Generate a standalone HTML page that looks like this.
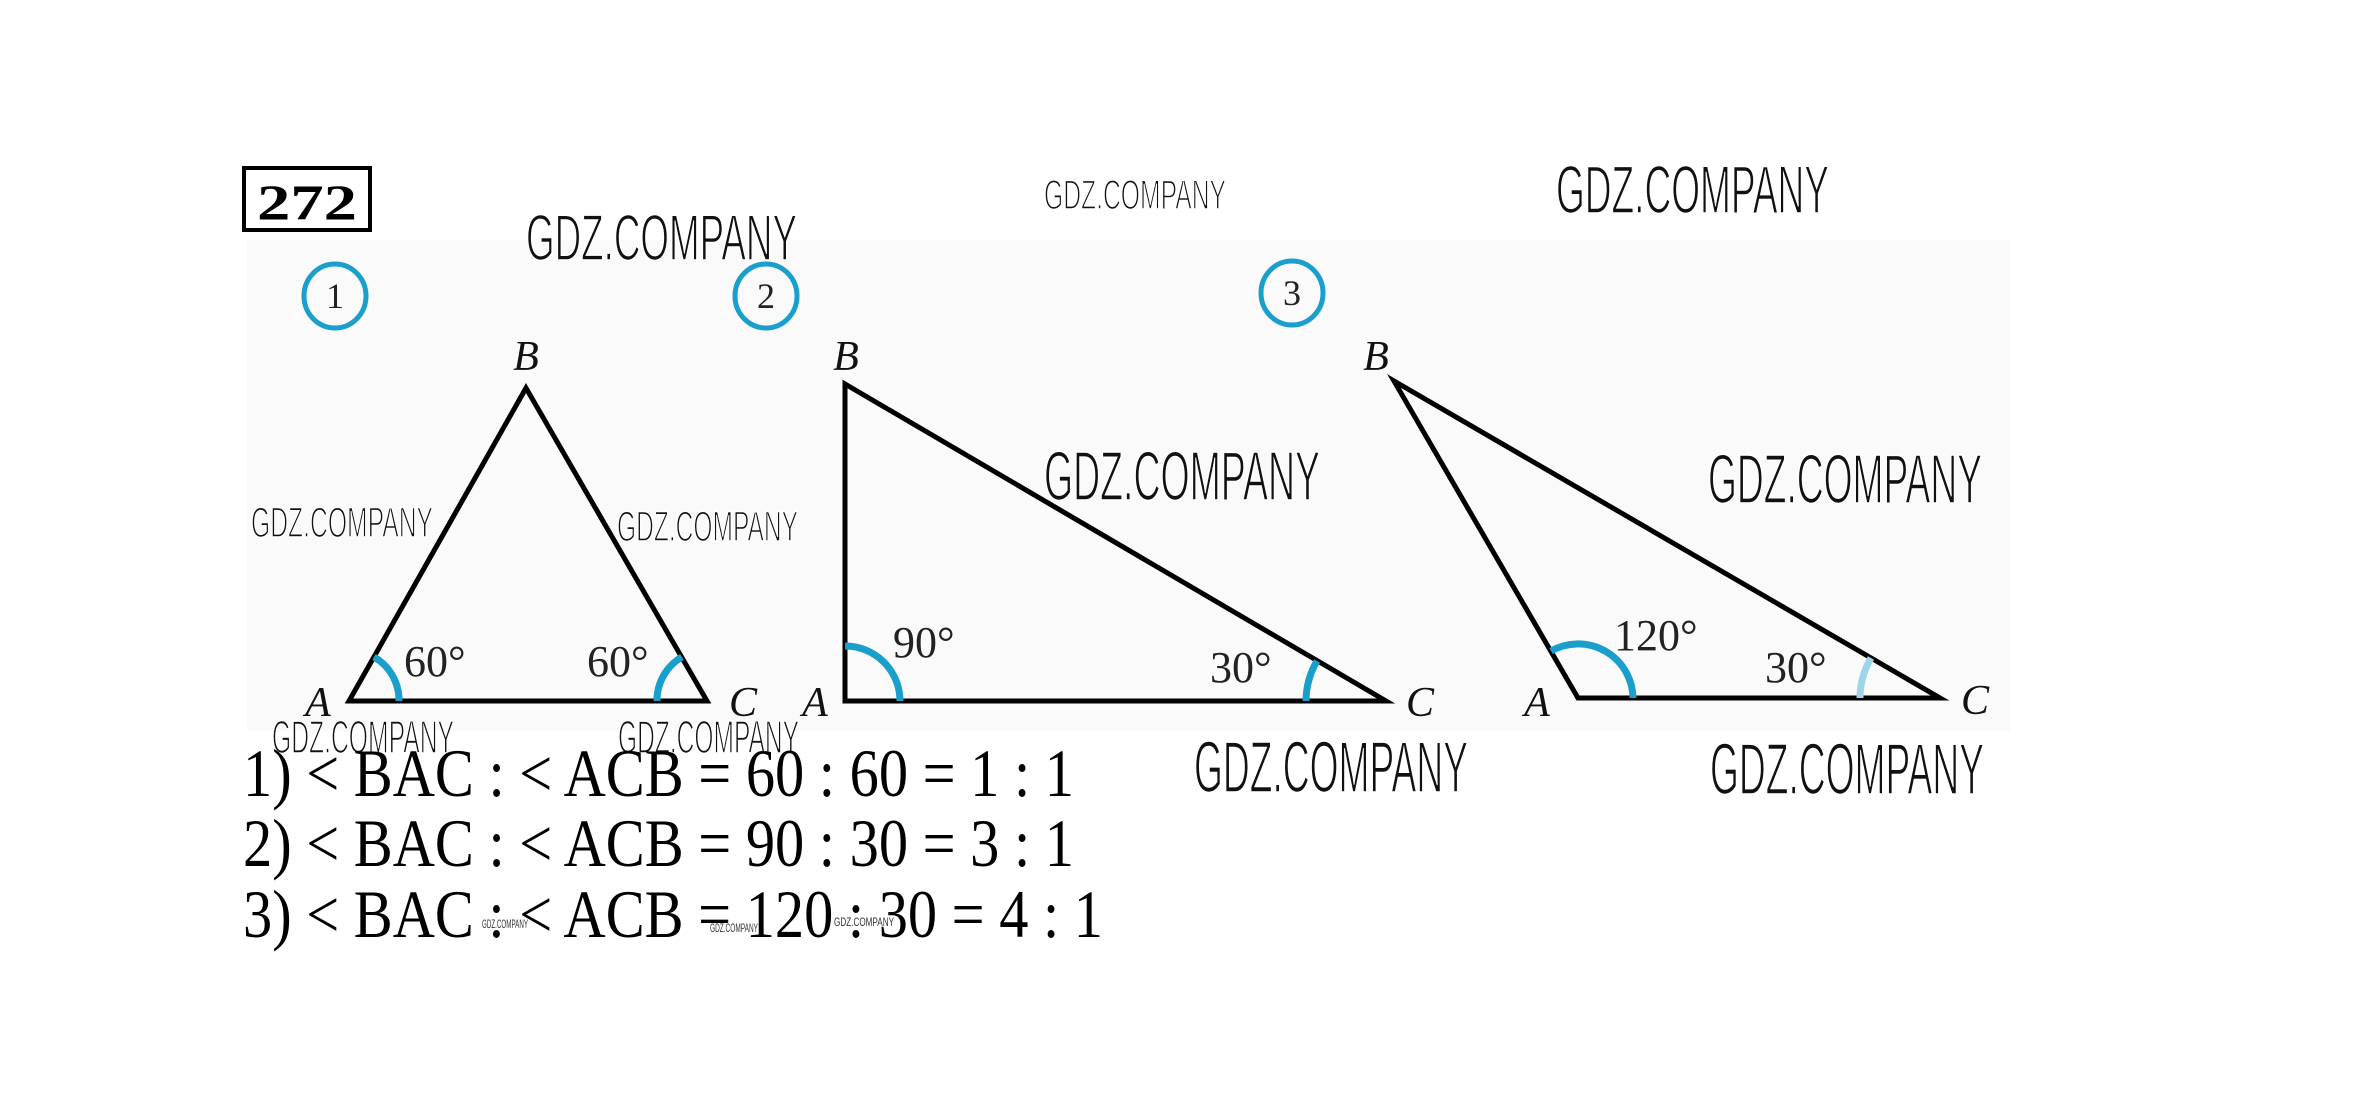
<!DOCTYPE html>
<html><head><meta charset="utf-8"><style>
html,body{margin:0;padding:0;background:#fff;}
svg{display:block;}
.w{font-family:"Liberation Sans",sans-serif;fill:#111;stroke:#fff;stroke-width:1.6px;paint-order:normal;}
.l{font-family:"Liberation Serif",serif;font-style:italic;fill:#111;}
.n{font-family:"Liberation Serif",serif;fill:#222;}
.t{font-family:"Liberation Serif",serif;fill:#000;}
</style></head><body>
<svg width="2367" height="1113" viewBox="0 0 2367 1113" xmlns="http://www.w3.org/2000/svg">
<rect width="2367" height="1113" fill="#fff"/>
<rect x="247" y="240" width="1763" height="491" fill="#fafafa"/>
<!-- 272 box -->
<rect x="244" y="168" width="126" height="62" fill="#fff" stroke="#000" stroke-width="4"/>
<text x="307" y="219" text-anchor="middle" class="t" font-size="50" font-weight="bold" textLength="100" lengthAdjust="spacingAndGlyphs">272</text>
<!-- circles -->
<g fill="none" stroke="#1a9fcc" stroke-width="5">
<ellipse cx="335" cy="296" rx="31" ry="32"/>
<ellipse cx="766" cy="296" rx="31" ry="32"/>
<ellipse cx="1292" cy="293" rx="31" ry="32"/>
</g>
<text x="335" y="308" text-anchor="middle" class="n" font-size="36">1</text>
<text x="766" y="308" text-anchor="middle" class="n" font-size="36">2</text>
<text x="1292" y="305" text-anchor="middle" class="n" font-size="36">3</text>
<!-- triangles -->
<g fill="none" stroke="#000" stroke-width="5" stroke-linejoin="miter">
<polygon points="526,388 349,701 707,701"/>
<polygon points="845,384 845,701 1386,701"/>
<polygon points="1394,381 1578,698 1940,698"/>
</g>
<!-- arcs -->
<g fill="none" stroke="#1a9fcc" stroke-width="7">
<path d="M 399 701 A 50 50 0 0 0 374 657"/>
<path d="M 657 701 A 50 50 0 0 1 682 657"/>
<path d="M 900 701 A 55 55 0 0 0 845 646"/>
<path d="M 1306 701 A 80 80 0 0 1 1317 661"/>
<path d="M 1633 698 A 55 55 0 0 0 1551 651"/>
<path d="M 1860 698 A 80 80 0 0 1 1871 658" stroke="#9fd5ea"/>
</g>
<!-- vertex labels -->
<g class="l" font-size="42" text-anchor="middle">
<text x="526" y="370">B</text><text x="318" y="716">A</text><text x="743" y="716">C</text>
<text x="846" y="370">B</text><text x="815" y="716">A</text><text x="1420" y="716">C</text>
<text x="1376" y="370">B</text><text x="1537" y="716">A</text><text x="1975" y="714">C</text>
</g>
<!-- angle labels -->
<g class="n" font-size="44">
<text x="404" y="676">60°</text>
<text x="587" y="676">60°</text>
<text x="893" y="657">90°</text>
<text x="1210" y="682">30°</text>
<text x="1614" y="650">120°</text>
<text x="1765" y="682">30°</text>
</g>
<!-- watermarks -->
<g class="w">
<text x="526" y="260" font-size="65" textLength="271" lengthAdjust="spacingAndGlyphs">GDZ.COMPANY</text>
<text x="1044" y="209" font-size="42" textLength="182" lengthAdjust="spacingAndGlyphs">GDZ.COMPANY</text>
<text x="1556" y="213" font-size="68" textLength="273" lengthAdjust="spacingAndGlyphs">GDZ.COMPANY</text>
<text x="251" y="537" font-size="43" textLength="182" lengthAdjust="spacingAndGlyphs">GDZ.COMPANY</text>
<text x="617" y="541" font-size="43" textLength="181" lengthAdjust="spacingAndGlyphs">GDZ.COMPANY</text>
<text x="1044" y="500" font-size="70" textLength="276" lengthAdjust="spacingAndGlyphs">GDZ.COMPANY</text>
<text x="1708" y="503" font-size="70" textLength="274" lengthAdjust="spacingAndGlyphs">GDZ.COMPANY</text>
<text x="272" y="753" font-size="46" textLength="182" lengthAdjust="spacingAndGlyphs">GDZ.COMPANY</text>
<text x="618" y="753" font-size="46" textLength="181" lengthAdjust="spacingAndGlyphs">GDZ.COMPANY</text>
<text x="1194" y="792" font-size="72" textLength="274" lengthAdjust="spacingAndGlyphs">GDZ.COMPANY</text>
<text x="1710" y="794" font-size="72" textLength="274" lengthAdjust="spacingAndGlyphs">GDZ.COMPANY</text>
</g>
<!-- equations -->
<g class="t" font-size="68">
<text x="243" y="796" textLength="831" lengthAdjust="spacingAndGlyphs">1) &lt; BAC : &lt; ACB = 60 : 60 = 1 : 1</text>
<text x="243" y="866" textLength="831" lengthAdjust="spacingAndGlyphs">2) &lt; BAC : &lt; ACB = 90 : 30 = 3 : 1</text>
<text x="243" y="937" textLength="860" lengthAdjust="spacingAndGlyphs">3) &lt; BAC : &lt; ACB = 120 : 30 = 4 : 1</text>
</g>
<g font-family="Liberation Sans, sans-serif" fill="#333" font-size="12">
<text x="482" y="928" textLength="46" lengthAdjust="spacingAndGlyphs">GDZ.COMPANY</text>
<text x="710" y="932" textLength="48" lengthAdjust="spacingAndGlyphs">GDZ.COMPANY</text>
<text x="834" y="926" textLength="60" lengthAdjust="spacingAndGlyphs">GDZ.COMPANY</text>
</g>
</svg>
</body></html>
